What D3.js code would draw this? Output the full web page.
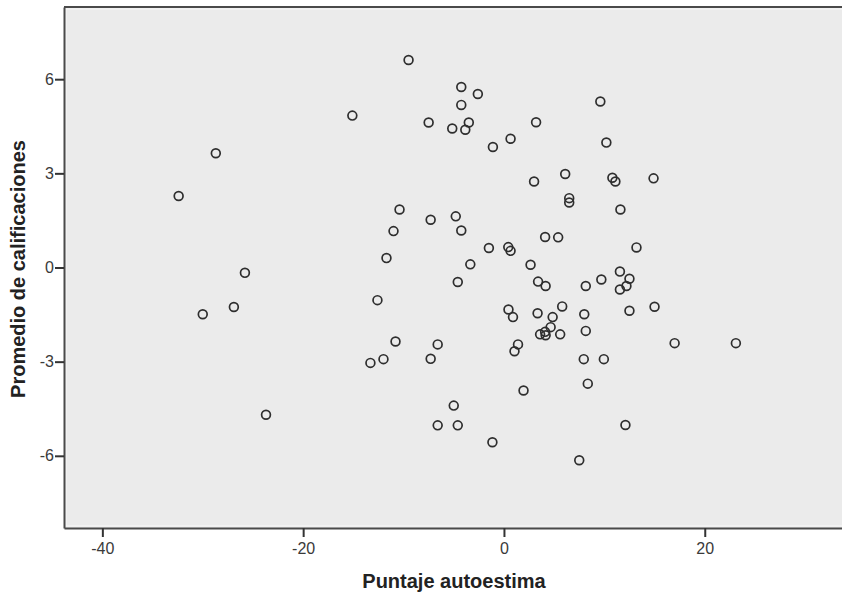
<!DOCTYPE html>
<html>
<head>
<meta charset="utf-8">
<script src="https://cdnjs.cloudflare.com/ajax/libs/d3/7.8.5/d3.min.js"></script>
<style>
body { margin: 0; background: #fff; }
svg text { font-family: "Liberation Sans", Arial, sans-serif; }
</style>
</head>
<body>
<svg id="chart"></svg>
<script>
// puntaje autoestima (x) y promedio de calificaciones (y)
var autoestima = [-32.4, -28.7, -25.8, -30.0, -26.9, -23.7,
  -9.5, -4.25, -2.6, -4.25, -15.1, -7.5, -5.15, -3.85, -3.5, 3.2, 0.66, -1.1,
  3.0, 6.1, 6.5, 6.5, -10.4, -7.3, -4.8, -11.0, -4.25, 4.1, 5.4, -1.5, 0.43, 0.66,
  -11.7, -3.35, 2.65, -4.6, 3.4, 4.15, -12.6,
  9.6, 10.2, 10.8, 11.1, 14.9, 11.6, 13.2, 11.55, 12.5, 9.7, 8.15, 11.55, 12.2,
  0.45, 0.9, 3.35, 4.85, 5.8, 4.65, 4.1, 3.6, 4.15, 5.6, -10.8, -6.6, 1.4, 1.05,
  -12.0, -13.3, -7.3, 1.95, -5.0, -6.6, -4.6, -1.15, 7.5,
  8.0, 12.5, 15.0, 8.15, 17.0, 23.1, 7.95, 9.95, 8.35, 12.1];
var promedio = [2.28, 3.64, -0.17, -1.49, -1.26, -4.69,
  6.61, 5.75, 5.53, 5.18, 4.84, 4.62, 4.43, 4.39, 4.62, 4.63, 4.10, 3.84,
  2.74, 2.98, 2.21, 2.07, 1.85, 1.52, 1.63, 1.16, 1.18, 0.97, 0.96, 0.62, 0.65, 0.53,
  0.30, 0.10, 0.09, -0.46, -0.45, -0.59, -1.04,
  5.29, 3.98, 2.86, 2.74, 2.84, 1.85, 0.64, -0.13, -0.36, -0.38, -0.59, -0.70, -0.59,
  -1.34, -1.58, -1.46, -1.58, -1.24, -1.90, -2.05, -2.13, -2.16, -2.13, -2.36, -2.45, -2.45, -2.67,
  -2.92, -3.04, -2.91, -3.92, -4.40, -5.03, -5.03, -5.57, -6.14,
  -1.49, -1.38, -1.25, -2.02, -2.41, -2.41, -2.92, -2.92, -3.70, -5.02];
var xTicks = [-40, -20, 0, 20];
var yTicks = [-6, -3, 0, 3, 6];

var width = 842, height = 597;
var mLeft = 64, mTop = 7, mRight = 842, mBottom = 528;

var svg = d3.select("#chart").attr("width", width).attr("height", height);

var x = d3.scaleLinear().domain([-43.82, 33.67]).range([mLeft, mRight]);
var y = d3.scaleLinear().domain([-8.3, 8.3]).range([mBottom, mTop]);

// fondo del area de graficado
svg.append("rect")
    .attr("x", mLeft).attr("y", mTop)
    .attr("width", mRight - mLeft).attr("height", mBottom - mTop)
    .style("fill", "#ebebeb");
svg.append("rect")
    .attr("x", mLeft + 2).attr("y", mTop + 2)
    .attr("width", mRight - mLeft).attr("height", mBottom - mTop - 4)
    .style("fill", "none").style("stroke", "#f8f8f8").style("stroke-width", 1);

var fmt = function (d) { return String(d); };  // guion normal, no signo menos

var xAxis = svg.append("g")
    .attr("transform", "translate(0," + mBottom + ")")
    .call(d3.axisBottom(x).tickValues(xTicks).tickFormat(fmt).tickSize(9).tickPadding(6).tickSizeOuter(0));
var yAxis = svg.append("g")
    .attr("transform", "translate(" + mLeft + ",0)")
    .call(d3.axisLeft(y).tickValues(yTicks).tickFormat(fmt).tickSize(9).tickPadding(1).tickSizeOuter(0));

[xAxis, yAxis].forEach(function (a) {
    a.select(".domain").style("stroke", "#4a4a4a").style("stroke-width", 2);
    a.selectAll(".tick line").style("stroke", "#333").style("stroke-width", 2);
    a.selectAll(".tick text").style("font-size", "16px").style("fill", "#3a3a3a")
        .style("font-family", "'Liberation Sans', Arial, sans-serif");
});

// linea superior del marco
svg.append("line")
    .attr("x1", mLeft).attr("x2", mRight)
    .attr("y1", mTop).attr("y2", mTop)
    .style("stroke", "#4a4a4a").style("stroke-width", 2);

svg.append("g")
    .selectAll("circle")
    .data(autoestima)
    .enter().append("circle")
    .attr("cx", function (d) { return x(d); })
    .attr("cy", function (d, i) { return y(promedio[i]); })
    .attr("r", 4.4)
    .style("fill", "none")
    .style("stroke", "#2e2e2e")
    .style("stroke-width", 1.7);

svg.append("text")
    .text("Puntaje autoestima")
    .attr("x", 454).attr("y", 588)
    .attr("text-anchor", "middle")
    .style("font-size", "20px").style("font-weight", "bold").style("fill", "#222");

svg.append("text")
    .text("Promedio de calificaciones")
    .attr("transform", "translate(25,269) rotate(-90)")
    .attr("text-anchor", "middle")
    .style("font-size", "20px").style("font-weight", "bold").style("fill", "#222");
</script>
</body>
</html>
